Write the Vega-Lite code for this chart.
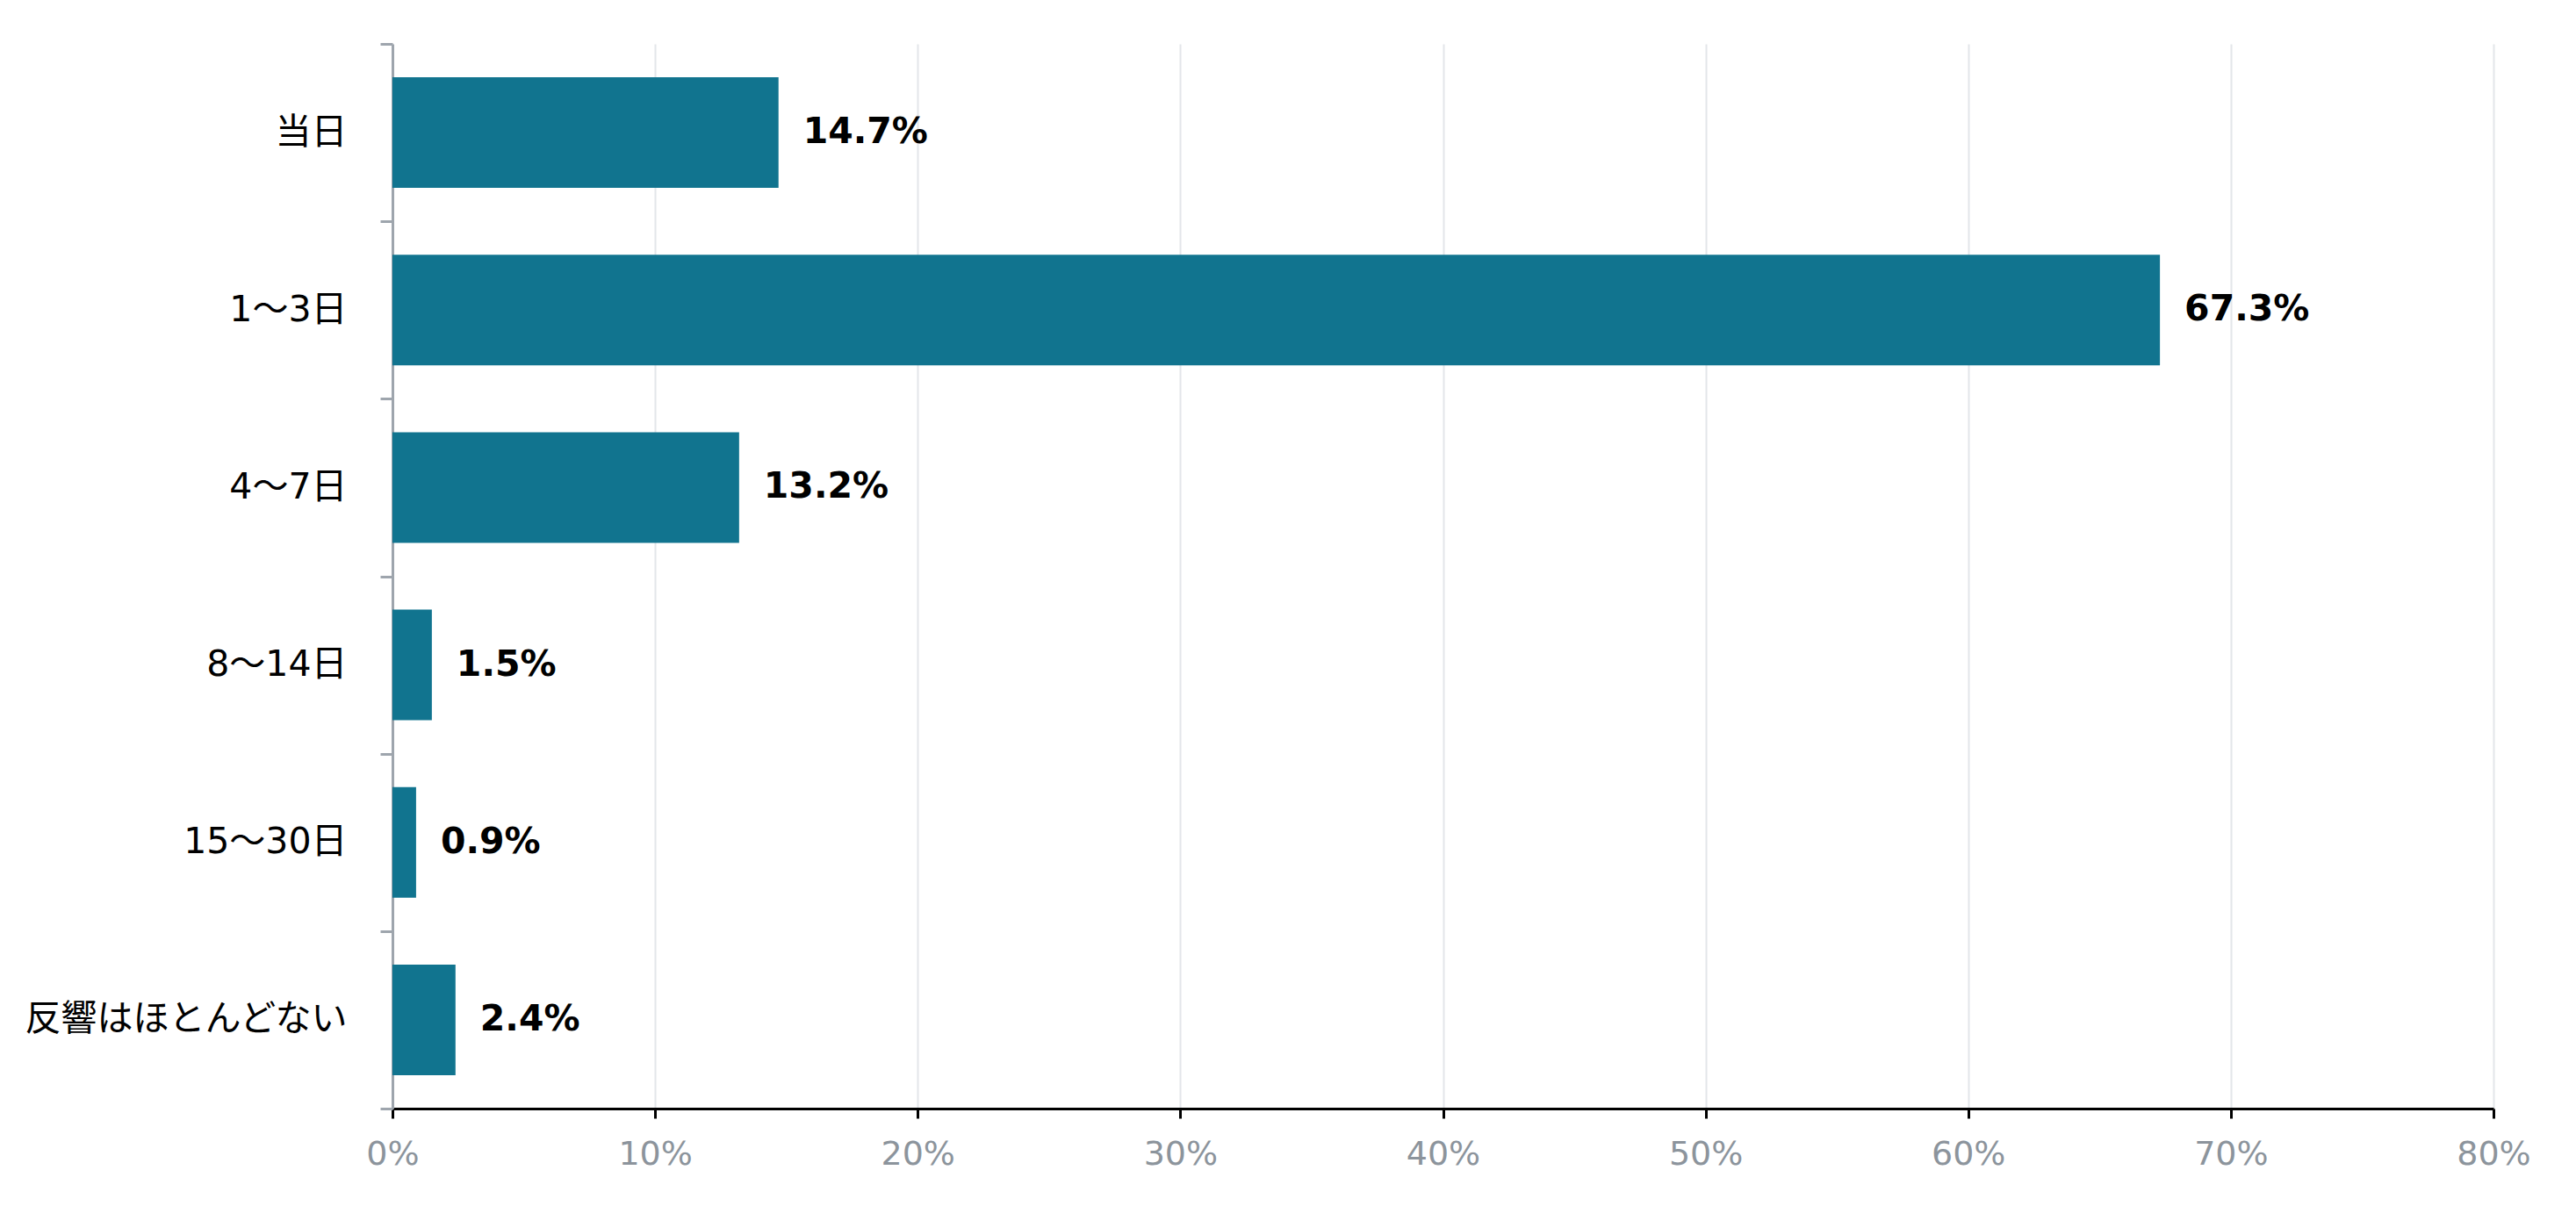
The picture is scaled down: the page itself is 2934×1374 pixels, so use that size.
{
  "$schema": "https://vega.github.io/schema/vega-lite/v6.json",
  "autosize": "none",
  "padding": {"left": 447, "top": 50, "right": 94, "bottom": 111},
  "width": 2393,
  "height": 1213,
  "background": "white",
  "config": {"view": {"stroke": null}},
  "data": {
    "values": [
      {"category": "当日", "value": 0.147},
      {"category": "1〜3日", "value": 0.673},
      {"category": "4〜7日", "value": 0.132},
      {"category": "8〜14日", "value": 0.015},
      {"category": "15〜30日", "value": 0.009},
      {"category": "反響はほとんどない", "value": 0.024}
    ]
  },
  "encoding": {
    "y": {
      "field": "category",
      "type": "nominal",
      "sort": null,
      "title": null,
      "scale": {"paddingInner": 0, "paddingOuter": 0},
      "axis": {
        "tickBand": "extent",
        "domainColor": "#9ea5ad",
        "domainWidth": 3,
        "tickColor": "#9ea5ad",
        "tickWidth": 3,
        "tickSize": 14,
        "labelPadding": 38,
        "labelColor": "#000000",
        "labelFont": "DejaVu Sans, Noto Sans CJK JP",
        "labelFontSize": 41,
        "labelLimit": 1000
      }
    },
    "x": {
      "field": "value",
      "type": "quantitative",
      "title": null,
      "scale": {"domain": [0, 0.8], "nice": false},
      "axis": {
        "values": [0, 0.1, 0.2, 0.3, 0.4, 0.5, 0.6, 0.7, 0.8],
        "format": ".0%",
        "labelFlush": false,
        "domainColor": "#000000",
        "domainWidth": 3,
        "tickColor": "#000000",
        "tickWidth": 3,
        "tickSize": 11,
        "labelPadding": 22,
        "labelColor": "#8c949c",
        "labelFont": "DejaVu Sans",
        "labelFontSize": 38,
        "gridColor": "#e3e6ea",
        "gridWidth": 2
      }
    }
  },
  "layer": [
    {
      "mark": {"type": "bar", "color": "#11748f", "height": {"band": 0.623}}
    },
    {
      "mark": {
        "type": "text",
        "align": "left",
        "baseline": "middle",
        "dx": 28,
        "font": "DejaVu Sans",
        "fontWeight": "bold",
        "fontSize": 41,
        "color": "#000000"
      },
      "encoding": {
        "text": {"field": "value", "type": "quantitative", "format": ".1%"}
      }
    }
  ]
}
